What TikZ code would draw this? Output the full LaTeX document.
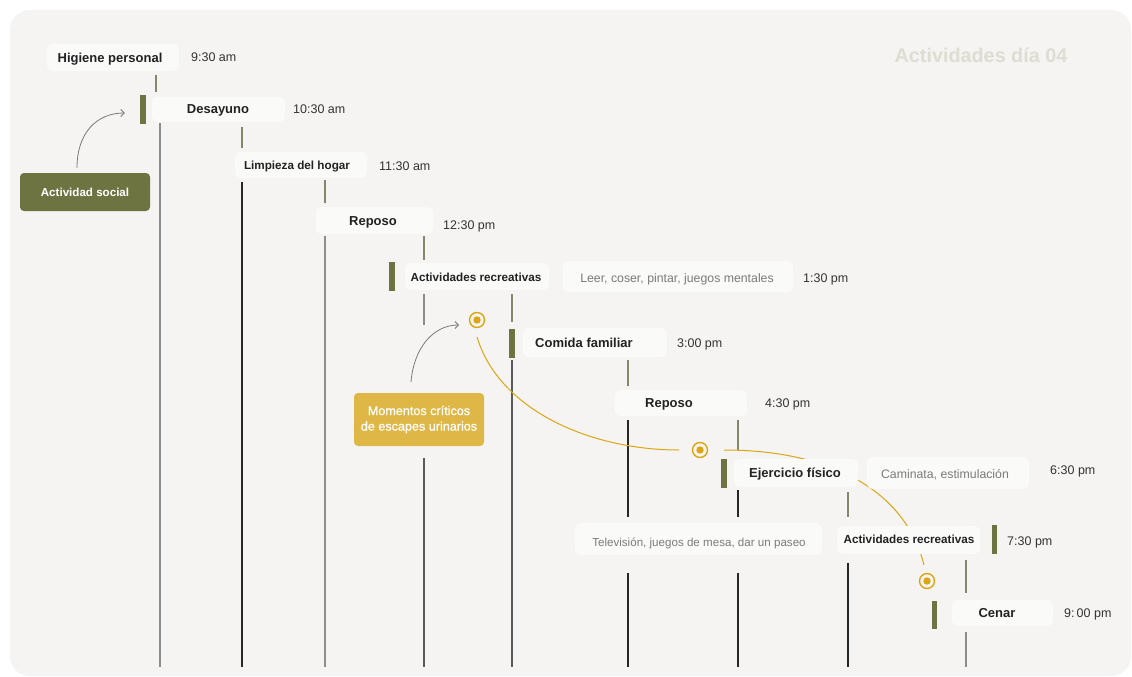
\documentclass[tikz,border=0pt]{standalone}
\usepackage{fontspec}
\setmainfont{Liberation Sans}
\newfontfamily\mediumfont[FakeBold=0.8]{Liberation Sans}
\usetikzlibrary{arrows.meta}

\definecolor{bgpanel}{HTML}{F5F4F2}
\definecolor{boxfill}{HTML}{FAFAF9}
\definecolor{olivebar}{HTML}{6E7441}
\definecolor{olivethin}{HTML}{86876A}
\definecolor{linegray}{HTML}{8C8C8C}
\definecolor{linemid}{HTML}{5A5A5A}
\definecolor{linedark}{HTML}{262626}
\definecolor{goldmark}{HTML}{DBA613}
\definecolor{goldnote}{HTML}{DFB747}
\definecolor{txtmain}{HTML}{222222}
\definecolor{txttime}{HTML}{333333}
\definecolor{txtdesc}{HTML}{7B7B7B}
\definecolor{titlecol}{HTML}{DDDDD2}
\definecolor{arrowgray}{HTML}{7A7A7A}

\tikzset{
  evbox/.style={fill=boxfill, rounded corners=6pt, inner sep=0pt},
  lblbig/.style={font=\fontsize{13}{15}\selectfont\bfseries, text=txtmain,
    inner sep=0pt, text height=9pt, text depth=2.5pt, yshift=-1.3pt},
  lblsmall/.style={font=\fontsize{11.7}{14}\selectfont\bfseries, text=txtmain,
    inner sep=0pt, text height=8.4pt, text depth=2.3pt, yshift=-1.2pt},
  timelbl/.style={font=\fontsize{12.5}{15}\selectfont, text=txttime, anchor=west,
    inner sep=0pt, text height=8.8pt, text depth=2.4pt, yshift=-1.3pt},
  desclbl/.style={font=\fontsize{12.3}{15}\selectfont, text=txtdesc,
    inner sep=0pt, text height=8.8pt, text depth=2.4pt, yshift=-1.3pt},
  ebar/.style={fill=olivebar, inner sep=0pt, minimum width=6pt, minimum height=29pt},
  target/.style={circle, draw=goldmark, line width=1.4pt, minimum size=15pt, inner sep=0pt},
  tline/.style={line width=1.3pt},
  notearrow/.style={arrowgray, line width=0.8pt, -{Straight Barb[length=3.5pt,width=7pt]}},
  goldpath/.style={goldmark, line width=1pt},
}

\begin{document}
\begin{tikzpicture}[x=1pt, y=-1pt]
  % page and panel
  \useasboundingbox (0,0) rectangle (1132,677);
  \fill[white] (0,0) rectangle (1132,677);
  \fill[bgpanel, rounded corners=20pt] (10,10) rectangle (1131,676);

  % title
  \node[font=\fontsize{19.8}{22}\selectfont\bfseries, text=titlecol, inner sep=0pt] (title) at (981,55) {Actividades día 04};

  % timeline stems
  \foreach \x/\ya/\yb in {156/75/92, 242/127/148, 325/180/203, 424/236/260, 512/294/322,
                          628/360/386, 738/420/450, 848/492/517, 966/560/593}
    \draw[tline, olivethin] (\x,\ya) -- (\x,\yb);
  \foreach \x/\ya/\yb in {160/123/667, 325/236/667, 424/294/325, 966/632/667}
    \draw[tline, linegray] (\x,\ya) -- (\x,\yb);
  \foreach \x/\ya/\yb in {424/458/667, 512/360/667}
    \draw[tline, linemid] (\x,\ya) -- (\x,\yb);
  \foreach \x/\ya/\yb in {242/182/667, 628/420/517, 628/573/667, 738/490/517, 738/573/667, 848/563/667}
    \draw[tline, linedark] (\x,\ya) -- (\x,\yb);

  % critical moments markers
  \node[target] (c1) at (477,320) {};
  \node[target] (c2) at (700,450) {};
  \node[target] (c3) at (927,581) {};
  \foreach \c in {c1,c2,c3} \fill[goldmark] (\c.center) circle (3.7pt);

  \draw[goldpath] ([yshift=-17pt]c1.center) .. controls +(22,73) and +(-89,0) .. ([xshift=-21pt]c2.center);
  \draw[goldpath] ([xshift=24pt]c2.center) .. controls +(106,0) and +(-19,-75) .. ([xshift=-3pt,yshift=16pt]c3.center);

  % 9:30 Higiene personal
  \node[evbox, minimum width=132pt, minimum height=27pt] (hig) at (113,57.5) {};
  \node[lblbig] (hig-t) at (110,57.5) {Higiene personal};
  \node[timelbl] (hig-h) at (191,57.5) {9:30 am};

  % 10:30 Desayuno
  \node[ebar] (des-b) at (143,109.5) {};
  \node[evbox, minimum width=133pt, minimum height=25pt] (des) at (218.5,109.5) {};
  \node[lblbig] (des-t) at (218,108.5) {Desayuno};
  \node[timelbl] (des-h) at (293,108.5) {10:30 am};

  % 11:30 Limpieza del hogar
  \node[evbox, minimum width=132pt, minimum height=26pt] (lim) at (301,165) {};
  \node[lblsmall] (lim-t) at (297,165.5) {Limpieza del hogar};
  \node[timelbl] (lim-h) at (379,165.5) {11:30 am};

  % 12:30 Reposo
  \node[evbox, minimum width=117pt, minimum height=27pt] (rep1) at (374.5,220.5) {};
  \node[lblbig] (rep1-t) at (373,220.5) {Reposo};
  \node[timelbl] (rep1-h) at (443,225) {12:30 pm};

  % 1:30 Actividades recreativas
  \node[ebar] (act1-b) at (392,276.5) {};
  \node[evbox, minimum width=144pt, minimum height=27pt] (act1) at (477,276.5) {};
  \node[lblsmall] (act1-t) at (476,277) {Actividades recreativas};
  \node[evbox, minimum width=230pt, minimum height=31pt] (act1-d) at (678,276.5) {};
  \node[desclbl] (act1-dt) at (677,278) {Leer, coser, pintar, juegos mentales};
  \node[timelbl] (act1-h) at (803,278) {1:30 pm};

  % 3:00 Comida familiar
  \node[ebar] (com-b) at (512,343) {};
  \node[evbox, minimum width=144pt, minimum height=29pt] (com) at (595,342.5) {};
  \node[lblbig] (com-t) at (584,343) {Comida familiar};
  \node[timelbl] (com-h) at (677,343) {3:00 pm};

  % 4:30 Reposo
  \node[evbox, minimum width=132pt, minimum height=26pt] (rep2) at (681,403) {};
  \node[lblbig] (rep2-t) at (669,403) {Reposo};
  \node[timelbl] (rep2-h) at (765,403) {4:30 pm};

  % 6:30 Ejercicio físico
  \node[ebar] (eje-b) at (724,473.5) {};
  \node[evbox, minimum width=124pt, minimum height=28pt] (eje) at (796,473) {};
  \node[lblbig] (eje-t) at (795,473) {Ejercicio físico};
  \node[evbox, minimum width=162pt, minimum height=32pt] (eje-d) at (948,473) {};
  \node[desclbl] (eje-dt) at (945,474) {Caminata, estimulación};
  \node[timelbl] (eje-h) at (1050,470) {6:30 pm};

  % 7:30 Actividades recreativas
  \node[evbox, minimum width=247pt, minimum height=32pt] (act2-d) at (698.5,539) {};
  \node[desclbl, font=\fontsize{11.6}{14}\selectfont] (act2-dt) at (699,542) {Televisión, juegos de mesa, dar un paseo};
  \node[evbox, minimum width=143pt, minimum height=28pt] (act2) at (908.5,540) {};
  \node[lblsmall] (act2-t) at (909,539) {Actividades recreativas};
  \node[ebar, minimum width=5pt] (act2-b) at (994.5,539) {};
  \node[timelbl] (act2-h) at (1007,541) {7:30 pm};

  % 9:00 Cenar
  \node[ebar, minimum width=5pt, minimum height=28pt] (cen-b) at (934.5,615) {};
  \node[evbox, minimum width=101pt, minimum height=26pt] (cen) at (1002.5,613) {};
  \node[lblbig] (cen-t) at (997,612.5) {Cenar};
  \node[timelbl] (cen-h) at (1064,612.5) {9:\,00 pm};

  % side notes
  \node[fill=olivebar, rounded corners=4pt, minimum width=130pt, minimum height=38pt, inner sep=0pt,
        text=white, font=\fontsize{11.6}{14}\selectfont\bfseries] (soc) at (85,192) {Actividad social};
  \node[fill=goldnote, rounded corners=4pt, minimum width=130pt, minimum height=53pt, inner sep=0pt,
        text=white, align=center, font=\fontsize{12.6}{15.5}\mediumfont] (mom) at (419,419.5)
        {Momentos críticos\\de escapes urinarios};

  \draw[notearrow] ([xshift=-8pt,yshift=5pt]soc.north) .. controls +(0,-35) and +(-28,0) .. ([xshift=-15pt,yshift=-3.5pt]des-b.west);
  \draw[notearrow] ([xshift=-8pt,yshift=11pt]mom.north) .. controls +(3,-35) and +(-25,0) .. ([xshift=-18pt,yshift=-5pt]c1.center);
\end{tikzpicture}
\end{document}
